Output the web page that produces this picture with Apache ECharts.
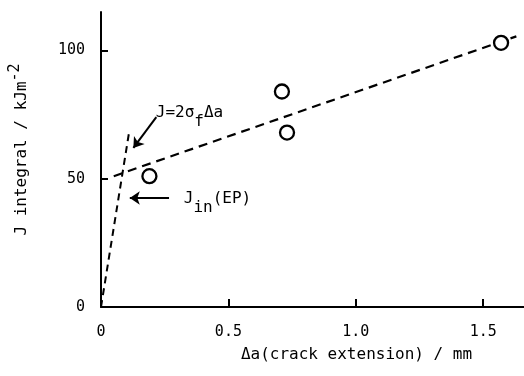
<!DOCTYPE html>
<html>
<head>
<meta charset="utf-8">
<script src="https://cdn.jsdelivr.net/npm/echarts@6/dist/echarts.min.js"></script>
<style>
  html, body { margin: 0; padding: 0; background: #fff; }
  #chart { width: 524px; height: 376px; }
</style>
</head>
<body>
<div id="chart"></div>
<script>
// measured points (crack extension mm, J kJ/m2)
const pointX = [0.19, 0.71, 0.73, 1.57];
const pointY = [51, 84, 68, 103];

// regression line through the points
const fitX = [0.05, 1.63];
const fitY = [51, 105.5];

// blunting line J = 2 sigma_f da
const bluntX = [0, 0.11];
const bluntY = [0, 68];

const xTicks = [0, 0.5, 1.0, 1.5];
const yTicks = [0, 50, 100];

// annotation arrows [from, to]
const arrows = [
  [[0.217, 74], [0.127, 62]],
  [[0.267, 42.5], [0.113, 42.5]]
];
// annotation text anchors (left edge)
const notes = [
  { x: 0.215, y: 75.5, text: '{n|J=2σ}{s|f}{n|Δa}' },
  { x: 0.325, y: 42, text: '{n|J}{s|in}{n|(EP)}' }
];

const font = 'DejaVu Sans Mono';
const chart = echarts.init(document.getElementById('chart'));

const pair = (xs, ys) => xs.map((x, i) => [x, ys[i]]);

chart.setOption({
  backgroundColor: '#fff',
  animation: false,
  grid: { left: 99, right: 0, top: 12, bottom: 69 },
  xAxis: {
    type: 'value',
    min: 0,
    max: 1.66,
    splitLine: { show: false },
    axisLine: { lineStyle: { color: '#000', width: 2 } },
    axisTick: { inside: true, length: 8, lineStyle: { color: '#000', width: 2 }, customValues: xTicks },
    axisLabel: {
      customValues: xTicks,
      formatter: v => (v === 0 ? '0' : v.toFixed(1)),
      color: '#000', fontFamily: font, fontSize: 15, margin: 18
    },
    name: 'Δa(crack extension) / mm',
    nameLocation: 'middle',
    nameGap: 40,
    nameTextStyle: { color: '#000', fontFamily: font, fontSize: 16, padding: [0, 0, 0, 88] }
  },
  yAxis: {
    type: 'value',
    min: 0,
    max: 115,
    splitLine: { show: false },
    axisLine: { lineStyle: { color: '#000', width: 2 } },
    axisTick: { inside: true, length: 7, lineStyle: { color: '#000', width: 2 }, customValues: yTicks },
    axisLabel: {
      customValues: yTicks,
      color: '#000', fontFamily: font, fontSize: 15, margin: 16
    },
    name: 'J integral / kJm{sup|-2}',
    nameLocation: 'middle',
    nameGap: 66,
    nameTextStyle: {
      color: '#000', fontFamily: font, fontSize: 16, padding: [0, 0, 0, 20],
      rich: { sup: { fontFamily: font, fontSize: 15, color: '#000', padding: [0, 0, 12, 0] } }
    }
  },
  series: [
    {
      type: 'line',
      data: pair(bluntX, bluntY),
      symbol: 'none',
      lineStyle: { color: '#000', width: 2, type: [7, 5] }
    },
    {
      type: 'line',
      data: pair(fitX, fitY),
      symbol: 'none',
      lineStyle: { color: '#000', width: 2.2, type: [9, 6] }
    },
    {
      type: 'scatter',
      data: pair(pointX, pointY),
      symbol: 'circle',
      symbolSize: 14,
      itemStyle: { color: '#fff', borderColor: '#000', borderWidth: 2.3, opacity: 1 },
      z: 5
    },
    {
      type: 'scatter',
      data: notes.map(n => ({ value: [n.x, n.y], label: { formatter: n.text } })),
      symbolSize: 0,
      itemStyle: { color: '#000', opacity: 1 },
      silent: true,
      label: {
        show: true,
        position: 'right',
        distance: 0,
        color: '#000',
        opacity: 1,
        fontFamily: font,
        fontSize: 16,
        rich: {
          n: { fontFamily: font, fontSize: 16, color: '#000' },
          s: { fontFamily: font, fontSize: 16, color: '#000', padding: [18, 0, 0, 0] }
        }
      },
      markLine: {
        silent: true,
        symbol: ['none', 'arrow'],
        symbolSize: 10,
        label: { show: false },
        lineStyle: { color: '#000', width: 2, type: 'solid', opacity: 1 },
        data: arrows.map(a => [{ coord: a[0] }, { coord: a[1] }])
      }
    }
  ]
});
</script>
</body>
</html>
